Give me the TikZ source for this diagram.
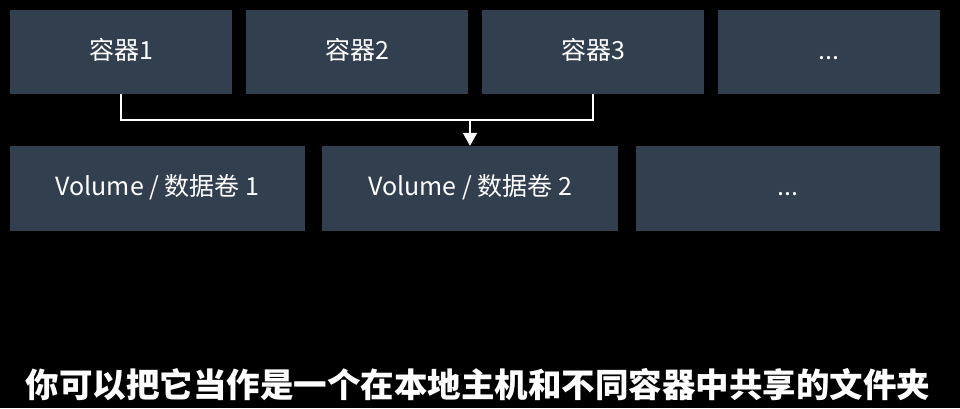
\documentclass[tikz,border=0pt]{standalone}
\usepackage{fontspec}
\setmainfont{Noto Sans CJK SC}
\usetikzlibrary{arrows.meta}
\definecolor{boxcol}{HTML}{323F4F}

\begin{document}
\begin{tikzpicture}[x=1pt, y=-1pt,
    box/.style={fill=boxcol, draw=none, text=white, inner sep=0pt,
      text height=18pt, text depth=4pt,
      minimum height=84pt, font=\fontsize{25}{30}\selectfont},
    link/.style={draw=white, line width=2pt}]
    \fill[black] (0,0) rectangle (960,408);

    % containers
    \node[box, minimum width=222pt] (c1) at (121,52) {容器1};
    \node[box, minimum width=222pt] (c2) at (357,52) {容器2};
    \node[box, minimum width=222pt] (c3) at (593,52) {容器3};
    \node[box, minimum width=222pt] (c4) at (829,52) {...};

    % volumes
    \node[box, minimum width=295pt, minimum height=85pt] (v1) at (157.5,188.5) {Volume / 数据卷 1};
    \node[box, minimum width=296pt, minimum height=85pt] (v2) at (470,188.5) {Volume / 数据卷 2};
    \node[box, minimum width=304pt, minimum height=85pt] (v3) at (788,188.5) {...};

    \coordinate (j) at (470,120);
    \draw[link] (c1.south) |- (j) -| (c3.south);
    \draw[link, -{Triangle[length=13pt, width=14pt]}] (j) -- (v2.north);

    \node[text=white, font=\fontsize{33.5}{38}\selectfont\bfseries] (cap) at (478,385)
      {你可以把它当作是一个在本地主机和不同容器中共享的文件夹};
\end{tikzpicture}
\end{document}
